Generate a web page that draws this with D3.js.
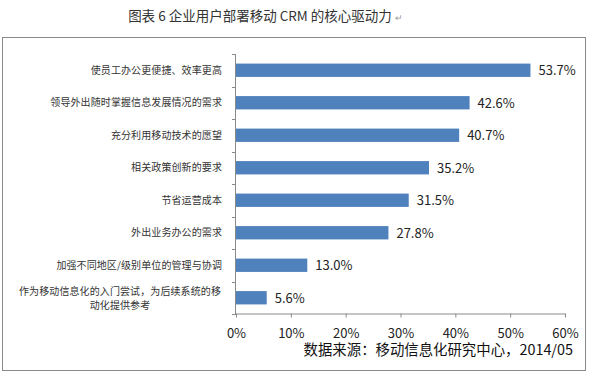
<!DOCTYPE html>
<html>
<head>
<meta charset="utf-8">
<script src="https://cdn.jsdelivr.net/npm/d3@7"></script>
<style>
  body { margin: 0; background: #fff; }
  svg text { font-family: "Noto Sans CJK SC", "Noto Sans", sans-serif; }
</style>
</head>
<body>
<div id="chart"></div>
<script>
// categories (top to bottom) and values in percent
let categories = [
    "使员工办公更便捷、效率更高",
    "领导外出随时掌握信息发展情况的需求",
    "充分利用移动技术的愿望",
    "相关政策创新的要求",
    "节省运营成本",
    "外出业务办公的需求",
    "加强不同地区/级别单位的管理与协调",
    "作为移动信息化的入门尝试，为后续系统的移|动化提供参考"
];
let values = [53.7, 42.6, 40.7, 35.2, 31.5, 27.8, 13.0, 5.6];
let xTicks = [0, 10, 20, 30, 40, 50, 60];

let titleText = "图表 6 企业用户部署移动 CRM 的核心驱动力";
let sourceText = "数据来源：移动信息化研究中心，2014/05";

let W = 591, H = 377;

let svg = d3.select("#chart").append("svg")
    .attr("width", W)
    .attr("height", H);

// title
svg.append("text")
    .attr("x", 260)
    .attr("y", 21)
    .attr("text-anchor", "middle")
    .attr("font-size", "13.5px")
    .attr("fill", "#333")
    .text(titleText);
// the little return mark after the title
svg.append("text")
    .attr("x", 395)
    .attr("y", 21)
    .attr("font-size", "9px")
    .attr("fill", "#999")
    .text("↵");

// outer frame
svg.append("rect")
    .attr("x", 2.5)
    .attr("y", 37.5)
    .attr("width", 583)
    .attr("height", 333)
    .attr("fill", "none")
    .attr("stroke", "#8a8a8a")
    .attr("stroke-width", 1);

//scales
let xScale = d3.scaleLinear()
    .domain([0, 60])
    .range([236, 565]);

let yScale = d3.scaleBand()
    .domain(categories)
    .range([54, 314])
    .paddingInner(0)
    .paddingOuter(0);

let barH = yScale.bandwidth() * 0.41;

// y axis line + tick marks at band edges
let yEdges = categories.map(c => yScale(c)).concat([yScale.range()[1]]);
svg.append("line")
    .attr("x1", xScale(0) - 0.5).attr("x2", xScale(0) - 0.5)
    .attr("y1", yScale.range()[0]).attr("y2", yScale.range()[1])
    .attr("stroke", "#8a8a8a");
svg.append("g").selectAll("line")
    .data(yEdges)
    .enter().append("line")
    .attr("x1", xScale(0) - 4).attr("x2", xScale(0))
    .attr("y1", d => Math.round(d) + 0.5).attr("y2", d => Math.round(d) + 0.5)
    .attr("stroke", "#8a8a8a");

// x axis
let xAxis = svg.append("g")
    .attr("transform", "translate(0," + (yScale.range()[1] - 0.5) + ")")
    .call(d3.axisBottom(xScale).tickValues(xTicks).tickSize(4).tickSizeOuter(0)
        .tickFormat(d => d + "%"));
xAxis.select(".domain").attr("stroke", "#8a8a8a");
xAxis.selectAll(".tick line").attr("stroke", "#8a8a8a");
xAxis.selectAll(".tick text")
    .attr("font-family", "Lato, 'Open Sans', sans-serif")
    .attr("font-size", "13px")
    .attr("fill", "#222")
    .attr("dy", "0")
    .attr("y", 24);

// bars
svg.append("g").selectAll("rect")
    .data(values)
    .enter().append("rect")
    .attr("x", xScale(0))
    .attr("y", (d, i) => yScale(categories[i]) + (yScale.bandwidth() - barH) / 2)
    .attr("width", d => xScale(d) - xScale(0))
    .attr("height", barH)
    .attr("fill", "#4f81bd");

// value labels
svg.append("g").selectAll("text")
    .data(values)
    .enter().append("text")
    .attr("x", d => xScale(d) + 8)
    .attr("y", (d, i) => yScale(categories[i]) + yScale.bandwidth() / 2 + 5)
    .attr("font-family", "Lato, 'Open Sans', sans-serif")
    .attr("font-size", "13px")
    .attr("fill", "#222")
    .text(d => d.toFixed(1) + "%");

// category labels (second line, if any, is centred under the first)
categories.forEach(function (c, i) {
    let lines = c.split("|");
    let cy = yScale(c) + yScale.bandwidth() / 2;
    if (lines.length == 1) {
        svg.append("text")
            .attr("x", 222)
            .attr("y", cy + 3.5)
            .attr("text-anchor", "end")
            .attr("font-size", "10px")
            .attr("letter-spacing", "0.1px")
            .attr("fill", "#333")
            .text(lines[0]);
    } else {
        lines.forEach(function (l, j) {
            svg.append("text")
                .attr("x", 120)
                .attr("y", cy - 6 + j * 14 + 3.5)
                .attr("text-anchor", "middle")
                .attr("font-size", "10px")
                .attr("letter-spacing", "0.1px")
                .attr("fill", "#333")
                .text(l);
        });
    }
});

// source note
svg.append("text")
    .attr("x", 573)
    .attr("y", 355)
    .attr("text-anchor", "end")
    .attr("font-size", "14.4px")
    .attr("fill", "#111")
    .text(sourceText);
</script>
</body>
</html>
